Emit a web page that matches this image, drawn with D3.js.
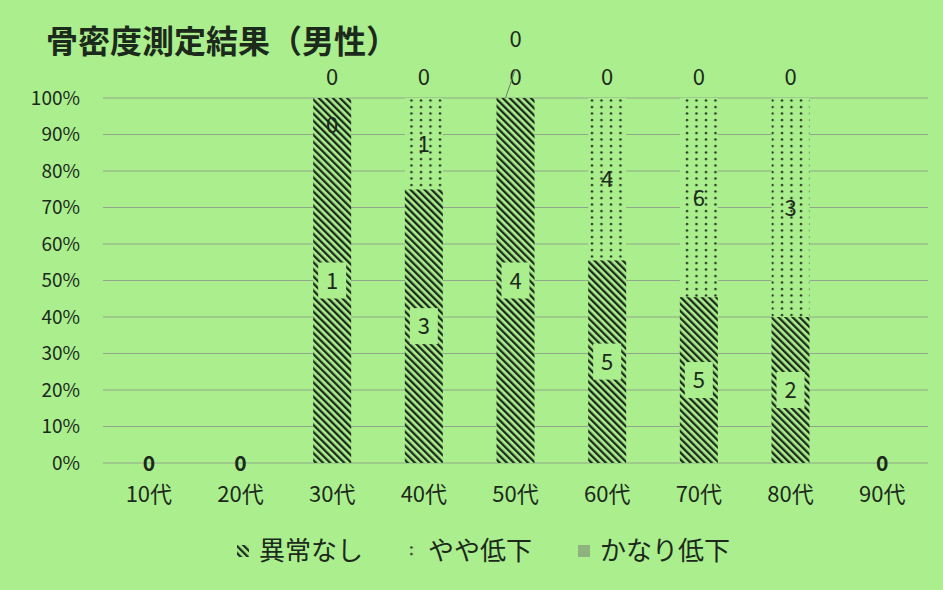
<!DOCTYPE html>
<html>
<head>
<meta charset="utf-8">
<script src="https://cdn.jsdelivr.net/npm/d3@7"></script>
<style>
body{margin:0;background:#abee8e;}
svg{display:block;font-family:"Noto Sans CJK JP","Noto Sans",sans-serif;}
</style>
</head>
<body>
<div id="chart"></div>
<script>
// data (people per age group)
var categories = ["10代","20代","30代","40代","50代","60代","70代","80代","90代"];
var seriesNames = ["異常なし","やや低下","かなり低下"];
var normal   = [0,0,1,3,4,5,5,2,0];
var slightly = [0,0,0,1,0,4,6,3,0];
var severe   = [0,0,0,0,0,0,0,0,0];
var yTicks = [0,0.1,0.2,0.3,0.4,0.5,0.6,0.7,0.8,0.9,1];

var W=943,H=590
var bg="#abee8e", ink="#1b2a1b"

var svg=d3.select("#chart").append("svg").attr("width",W).attr("height",H)
svg.append("rect").attr("width",W).attr("height",H).attr("fill",bg)

// patterns
var defs=svg.append("defs")
var hatch=defs.append("pattern").attr("id","hatch").attr("patternUnits","userSpaceOnUse")
	.attr("width",5).attr("height",5).attr("patternTransform","rotate(-45)")
hatch.append("rect").attr("width",5).attr("height",5).attr("fill",bg)
hatch.append("rect").attr("x",0).attr("y",0).attr("width",2.3).attr("height",5).attr("fill",ink)
var dots=defs.append("pattern").attr("id","dots").attr("patternUnits","userSpaceOnUse")
	.attr("width",9.5).attr("height",6.5)
dots.append("rect").attr("width",9.5).attr("height",6.5).attr("fill",bg)
dots.append("circle").attr("cx",3).attr("cy",3).attr("r",1.2).attr("fill",ink)
var fills=["url(#hatch)","url(#dots)","#8fb37f"]

// title
svg.append("text").attr("x",46).attr("y",53).attr("font-size",32).attr("font-weight","bold")
	.attr("fill",ink).text("骨密度測定結果（男性）")

var x=d3.scaleBand().domain(categories).range([103,928])
var y=d3.scaleLinear().domain([0,1]).range([463,98])
var barW=38

// grid
svg.append("g").selectAll("line").data(yTicks).enter().append("line")
	.attr("x1",103).attr("x2",928).attr("y1",function(d){return y(d)}).attr("y2",function(d){return y(d)})
	.attr("stroke","#8fa88a").attr("stroke-width",1.2)

var yAxis=svg.append("g").attr("transform","translate(92,0)")
	.call(d3.axisLeft(y).tickValues(yTicks).tickFormat(d3.format(".0%")).tickSize(0).tickPadding(12))
yAxis.select(".domain").remove()
yAxis.selectAll("text").attr("font-size",19).attr("fill",ink).attr("font-family","'Noto Sans CJK JP',sans-serif")

var xAxis=svg.append("g").attr("transform","translate(0,478)")
	.call(d3.axisBottom(x).tickSize(0).tickPadding(8))
xAxis.select(".domain").remove()
xAxis.selectAll("text").attr("font-size",22).attr("fill",ink).attr("font-family","'Noto Sans CJK JP',sans-serif")

// stack
var rows=categories.map(function(c,i){return {cat:c,s0:normal[i],s1:slightly[i],s2:severe[i]}})
var stack=d3.stack().keys(["s0","s1","s2"]).offset(d3.stackOffsetExpand)
var layers=stack(rows)

var gBars=svg.append("g")
layers.forEach(function(layer,k){
	gBars.selectAll(".b"+k).data(layer).enter().append("rect")
		.attr("x",function(d){return x(d.data.cat)+x.bandwidth()/2-barW/2})
		.attr("width",barW)
		.attr("y",function(d){return isNaN(d[1])?y(0):y(d[1])})
		.attr("height",function(d){return isNaN(d[1])?0:y(d[0])-y(d[1])})
		.attr("fill",fills[k])
})

// data labels
var gLab=svg.append("g")
rows.forEach(function(r,i){
	var cx=x(r.cat)+x.bandwidth()/2
	var total=r.s0+r.s1+r.s2
	if(total==0){
		gLab.append("text").attr("x",cx).attr("y",y(0)+8).attr("text-anchor","middle")
			.attr("font-size",21).attr("font-weight","bold").attr("fill",ink).text(0)
		return
	}
	var zeroAbove=0
	layers.forEach(function(layer,k){
		var d=layer[i], v=r["s"+k]
		var ly
		if(v>0){
			ly=y((d[0]+d[1])/2)
		}else if(k==1 && r.s0==total && i==2){
			ly=y(0.926)   // label nudged inside the bar in the original
		}else{
			ly=y(1)-21-zeroAbove*38
			zeroAbove++
		}
		if(k==0){
			gLab.append("rect").attr("x",cx-14).attr("y",ly-18).attr("width",28).attr("height",36).attr("fill",bg)
		}
		gLab.append("text").attr("x",cx).attr("y",ly+8).attr("text-anchor","middle")
			.attr("font-size",22).attr("fill",ink).text(v)
	})
	if(r.s1==0 && i==4){
		gLab.append("line").attr("x1",cx-10).attr("y1",y(1)).attr("x2",cx).attr("y2",y(1)-29)
			.attr("stroke","#6b7f6b").attr("stroke-width",1)
	}
})

// legend
var leg=svg.append("g").attr("transform","translate(0,551)")
var legX=[237,406,578]
seriesNames.forEach(function(n,k){
	leg.append("rect").attr("x",legX[k]).attr("y",-6).attr("width",12).attr("height",12).attr("fill",fills[k])
	leg.append("text").attr("x",legX[k]+22).attr("y",9).attr("font-size",26).attr("fill",ink).text(n)
})
</script>
</body>
</html>
